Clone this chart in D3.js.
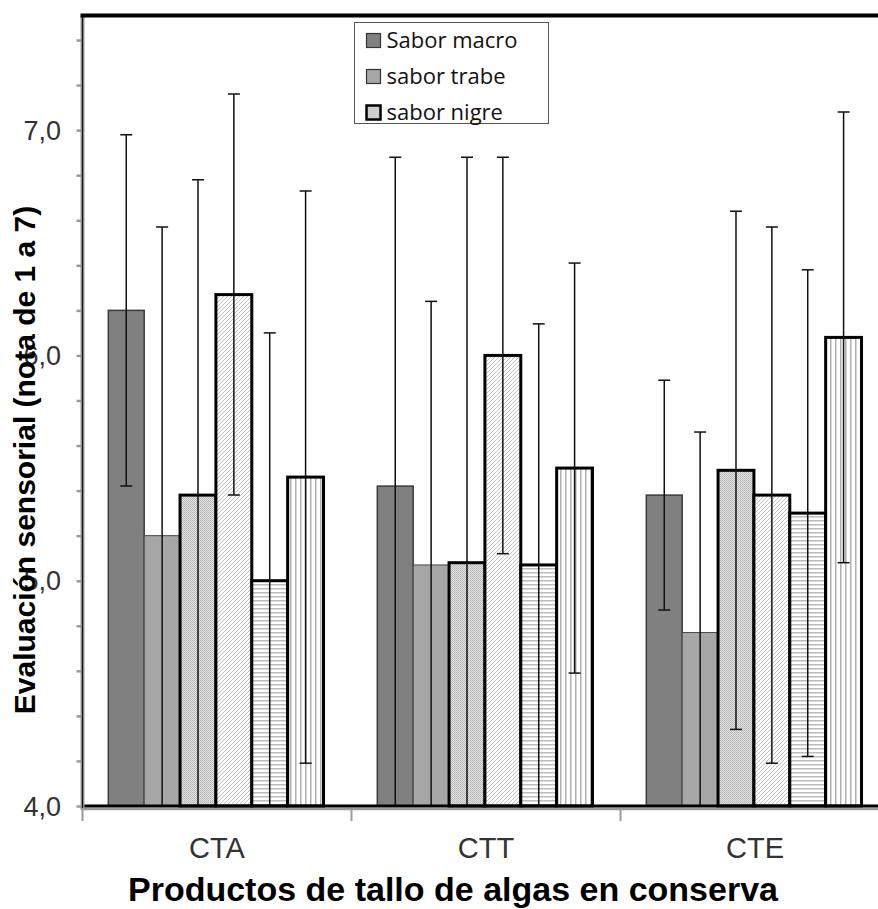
<!DOCTYPE html>
<html>
<head>
<meta charset="utf-8">
<script src="https://cdnjs.cloudflare.com/ajax/libs/d3/7.8.5/d3.min.js"></script>
<style>
	body { margin: 0; background: #fff; }
	.tick-label { font-family: "Liberation Sans", Arial, sans-serif; fill: #333; }
	.legend-text { font-family: "Open Sans", sans-serif; fill: #111; }
</style>
</head>
<body>
<div id="chart"></div>
<script>
var categories = ["CTA", "CTT", "CTE"],
	seriesKeys = ["macro", "trabe", "nigre", "s4", "s5", "s6"],
	legendNames = ["Sabor macro", "sabor trabe", "sabor nigre"],
	yTicks = [4, 5, 6, 7];

// mean per category, one array per series
var macro = [6.20, 5.42, 5.38],
	trabe = [5.20, 5.07, 4.77],
	nigre = [5.38, 5.08, 5.49],
	s4 = [6.27, 6.00, 5.38],
	s5 = [5.00, 5.07, 5.30],
	s6 = [5.46, 5.50, 6.08];

// error bar half length
var macroErr = [0.78, 1.46, 0.51],
	trabeErr = [1.37, 1.17, 0.89],
	nigreErr = [1.40, 1.80, 1.15],
	s4Err = [0.89, 0.88, 1.19],
	s5Err = [1.10, 1.07, 1.08],
	s6Err = [1.27, 0.91, 1.00];

var means = { macro: macro, trabe: trabe, nigre: nigre, s4: s4, s5: s5, s6: s6 },
	errs = { macro: macroErr, trabe: trabeErr, nigre: nigreErr, s4: s4Err, s5: s5Err, s6: s6Err };

var width = 878,
	height = 909,
	plotLeft = 82.5,
	plotRight = 889.5,
	plotTop = 17.5,
	plotBottom = 806;

var svg = d3.select("#chart").append("svg")
	.attr("width", width)
	.attr("height", height);

var defs = svg.append("defs");

// fill patterns
var pDots = defs.append("pattern").attr("id", "pDots")
	.attr("patternUnits", "userSpaceOnUse").attr("width", 2).attr("height", 2);
pDots.append("rect").attr("width", 2).attr("height", 2).attr("fill", "#e2e2e2");
pDots.append("rect").attr("width", 1).attr("height", 1).attr("fill", "#b4b4b4");
pDots.append("rect").attr("x", 1).attr("y", 1).attr("width", 1).attr("height", 1).attr("fill", "#c0c0c0");

var pDiag = defs.append("pattern").attr("id", "pDiag")
	.attr("patternUnits", "userSpaceOnUse").attr("width", 4).attr("height", 4);
pDiag.append("rect").attr("width", 4).attr("height", 4).attr("fill", "#fff");
pDiag.append("path").attr("d", "M-1,1 l2,-2 M0,4 l4,-4 M3,5 l2,-2")
	.attr("stroke", "#c2c2c2").attr("stroke-width", 1);

var pHor = defs.append("pattern").attr("id", "pHor")
	.attr("patternUnits", "userSpaceOnUse").attr("width", 4).attr("height", 4);
pHor.append("rect").attr("width", 4).attr("height", 4).attr("fill", "#fff");
pHor.append("rect").attr("y", 0).attr("width", 4).attr("height", 1.5).attr("fill", "#bcbcbc");

var pVer = defs.append("pattern").attr("id", "pVer")
	.attr("patternUnits", "userSpaceOnUse").attr("width", 5).attr("height", 5);
pVer.append("rect").attr("width", 5).attr("height", 5).attr("fill", "#fff");
pVer.append("rect").attr("x", 0).attr("width", 1.5).attr("height", 5).attr("fill", "#b0b0b0");

defs.append("clipPath").attr("id", "plotClip")
	.append("rect")
	.attr("x", plotLeft).attr("y", plotTop)
	.attr("width", plotRight - plotLeft).attr("height", plotBottom - plotTop);

var fills = { macro: "#808080", trabe: "#a6a6a6", nigre: "url(#pDots)", s4: "url(#pDiag)", s5: "url(#pHor)", s6: "url(#pVer)" },
	strokes = { macro: "#3a3a3a", trabe: "#4a4a4a", nigre: "#000", s4: "#000", s5: "#000", s6: "#000" },
	strokeW = { macro: 1.5, trabe: 1, nigre: 3, s4: 3, s5: 3, s6: 3 };

var x0 = d3.scaleBand().domain(categories).range([plotLeft, plotRight]);
var bw = x0.bandwidth();
var x1 = d3.scaleBand().domain(seriesKeys).range([bw * 0.096, bw * 0.896]);
var y = d3.scaleLinear().domain([4, 7.5]).range([plotBottom, plotTop]);

var data = [];
categories.forEach(function (c, i) {
	seriesKeys.forEach(function (k) {
		data.push({ cat: c, key: k, value: means[k][i], err: errs[k][i] });
	});
});

// bars
svg.append("g").selectAll("rect")
	.data(data)
	.enter().append("rect")
	.attr("x", function (d) { return x0(d.cat) + x1(d.key); })
	.attr("y", function (d) { return y(d.value); })
	.attr("width", x1.bandwidth())
	.attr("height", function (d) { return y(4) - y(d.value); })
	.attr("fill", function (d) { return fills[d.key]; })
	.attr("stroke", function (d) { return strokes[d.key]; })
	.attr("stroke-width", function (d) { return strokeW[d.key]; });

// error bars
var eb = svg.append("g").attr("clip-path", "url(#plotClip)")
	.selectAll("g")
	.data(data)
	.enter().append("g")
	.attr("transform", function (d) { return "translate(" + (x0(d.cat) + x1(d.key) + x1.bandwidth() / 2) + ",0)"; });

eb.append("line")
	.attr("y1", function (d) { return y(d.value - d.err); })
	.attr("y2", function (d) { return y(d.value + d.err); })
	.attr("stroke", "#111").attr("stroke-width", 1.5);

eb.append("line")
	.attr("x1", -6).attr("x2", 6)
	.attr("y1", function (d) { return y(d.value + d.err); })
	.attr("y2", function (d) { return y(d.value + d.err); })
	.attr("stroke", "#111").attr("stroke-width", 1.5);

eb.filter(function (d) { return d.value - d.err > 4.02; })
	.append("line")
	.attr("x1", -6).attr("x2", 6)
	.attr("y1", function (d) { return y(d.value - d.err); })
	.attr("y2", function (d) { return y(d.value - d.err); })
	.attr("stroke", "#111").attr("stroke-width", 1.5);

// base line and x axis
svg.append("line")
	.attr("x1", plotLeft).attr("x2", plotRight)
	.attr("y1", y(4) + 3).attr("y2", y(4) + 3)
	.attr("stroke", "#9a9a9a").attr("stroke-width", 2.5);
svg.append("line")
	.attr("x1", plotLeft).attr("x2", plotRight)
	.attr("y1", y(4)).attr("y2", y(4))
	.attr("stroke", "#000").attr("stroke-width", 3);

var xAxis = svg.append("g")
	.attr("transform", "translate(0," + (y(4) + 3) + ")");
xAxis.selectAll(".xtick")
	.data(categories.concat(["end"]))
	.enter().append("line")
	.attr("x1", function (d, i) { return plotLeft + i * bw; })
	.attr("x2", function (d, i) { return plotLeft + i * bw; })
	.attr("y1", 0).attr("y2", 12)
	.attr("stroke", "#9a9a9a").attr("stroke-width", 2);
xAxis.selectAll(".xlabel")
	.data(categories)
	.enter().append("text")
	.attr("class", "tick-label")
	.attr("x", function (d) { return x0(d) + bw / 2; })
	.attr("y", 49)
	.attr("text-anchor", "middle")
	.style("font-size", "29px")
	.text(function (d) { return d; });

// y axis
var yAxis = d3.axisLeft(y)
	.tickValues(d3.range(4, 7.41, 0.2))
	.tickSize(6)
	.tickFormat("");
var yg = svg.append("g")
	.attr("transform", "translate(" + plotLeft + ",0)")
	.call(yAxis);
yg.select(".domain").remove();
yg.selectAll(".tick line").attr("stroke", "#9a9a9a").attr("stroke-width", 2.5);
svg.append("line")
	.attr("x1", plotLeft).attr("x2", plotLeft)
	.attr("y1", plotTop - 2).attr("y2", y(4) + 4)
	.attr("stroke", "#9a9a9a").attr("stroke-width", 4);
svg.append("line")
	.attr("x1", plotLeft).attr("x2", plotLeft)
	.attr("y1", plotTop - 2).attr("y2", y(4) + 2)
	.attr("stroke", "#111").attr("stroke-width", 1.2);

svg.append("g").selectAll("text")
	.data(yTicks)
	.enter().append("text")
	.attr("class", "tick-label")
	.attr("x", 61)
	.attr("y", function (d) { return y(d); })
	.attr("dy", "0.36em")
	.attr("text-anchor", "end")
	.style("font-size", "27px")
	.text(function (d) { return d3.format(".1f")(d).replace(".", ","); });

// top border of plot area
svg.append("line")
	.attr("x1", plotLeft - 2).attr("x2", plotRight)
	.attr("y1", plotTop - 2).attr("y2", plotTop - 2)
	.attr("stroke", "#000").attr("stroke-width", 4);

// axis titles
svg.append("text")
	.attr("transform", "translate(35," + 460 + ") rotate(-90)")
	.attr("text-anchor", "middle")
	.style("font-family", "'Liberation Sans', Arial, sans-serif")
	.style("font-weight", "bold")
	.style("font-size", "30px")
	.text("Evaluación sensorial (nota de 1 a 7)");

svg.append("text")
	.attr("x", 453)
	.attr("y", 901)
	.attr("text-anchor", "middle")
	.style("font-family", "'Liberation Sans', Arial, sans-serif")
	.style("font-weight", "bold")
	.style("font-size", "34px")
	.text("Productos de tallo de algas en conserva");

// legend
var legend = svg.append("g").attr("transform", "translate(354.5,22.5)");
legend.append("rect")
	.attr("width", 194).attr("height", 101)
	.attr("fill", "#fff").attr("stroke", "#555").attr("stroke-width", 1);
var li = legend.selectAll(".li")
	.data(legendNames)
	.enter().append("g")
	.attr("transform", function (d, i) { return "translate(12," + (11 + i * 36) + ")"; });
li.append("rect")
	.attr("width", 14).attr("height", 14)
	.attr("fill", function (d, i) { return fills[seriesKeys[i]]; })
	.attr("stroke", function (d, i) { return i == 2 ? "#000" : "#333"; })
	.attr("stroke-width", function (d, i) { return i == 2 ? 2.5 : 1.2; });
li.append("text")
	.attr("class", "legend-text")
	.attr("x", 20)
	.attr("y", 7)
	.attr("dy", "0.36em")
	.style("font-size", "22px")
	.text(function (d) { return d; });
</script>
</body>
</html>
